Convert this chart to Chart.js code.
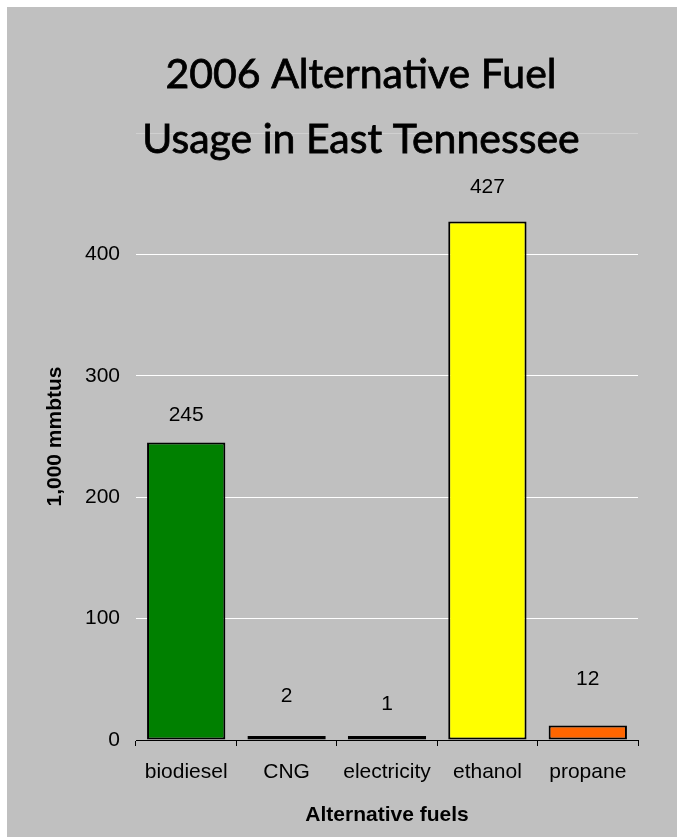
<!DOCTYPE html>
<html>
<head>
<meta charset="utf-8">
<script src="https://cdn.jsdelivr.net/npm/chart.js@4.4.1/dist/chart.umd.min.js"></script>
<style>
  body { margin: 0; background: #fff; }
  #wrap { position: absolute; left: 7px; top: 7px; width: 670px; height: 830px; background: #c0c0c0; }
</style>
</head>
<body>
<div id="wrap"><canvas id="fuel" width="670" height="830"></canvas></div>
<script>
const fuels = ["biodiesel", "CNG", "electricity", "ethanol", "propane"];
const usage = [245, 2, 1, 427, 12];
const yTicks = [0, 100, 200, 300, 400, 500];
const titleLines = ["2006 Alternative Fuel", "Usage in East Tennessee"];

const barColors = ["#008000", "#333333", "#333333", "#ffff00", "#ff6600"];
// how far above the bar top each value label sits (px), as in the original
const labelLift = [27, 41, 35, 34, 46];

const titlePlugin = {
  id: "bigTitle",
  afterDraw(chart) {
    const ctx = chart.ctx;
    ctx.save();
    ctx.fillStyle = "#000";
    ctx.strokeStyle = "#000";
    ctx.lineWidth = 0.8;
    ctx.textAlign = "center";
    ctx.textBaseline = "middle";
    ctx.font = "41px Lato";
    titleLines.forEach((line, i) => {
      ctx.fillText(line, 354, 68 + i * 65);
      ctx.strokeText(line, 354, 68 + i * 65);
    });
    ctx.restore();
  },
};

const valueLabels = {
  id: "valueLabels",
  afterDatasetsDraw(chart) {
    const ctx = chart.ctx;
    const meta = chart.getDatasetMeta(0);
    ctx.save();
    ctx.fillStyle = "#000";
    ctx.font = "21px 'Liberation Sans'";
    ctx.textAlign = "center";
    ctx.textBaseline = "middle";
    meta.data.forEach((bar, i) => {
      ctx.fillText(usage[i], bar.x, chart.scales.y.getPixelForValue(usage[i]) - labelLift[i]);
    });
    ctx.restore();
  },
};

Chart.defaults.font.family = "'Liberation Sans', Arial, sans-serif";
Chart.defaults.color = "#000";

new Chart(document.getElementById("fuel").getContext("2d"), {
  type: "bar",
  data: {
    labels: fuels,
    datasets: [
      {
        data: usage,
        backgroundColor: barColors,
        borderColor: "#000",
        borderWidth: 2,
        borderSkipped: false,
        minBarLength: 4,
        barPercentage: 0.78,
        categoryPercentage: 1,
      },
    ],
  },
  options: {
    responsive: false,
    devicePixelRatio: 1,
    animation: false,
    layout: { padding: { top: 126, right: 39, left: 0, bottom: 0 } },
    plugins: {
      legend: { display: false },
      tooltip: { enabled: false },
    },
    scales: {
      x: {
        afterFit(scale) {
          scale.height = 97;
        },
        grid: {
          offset: true,
          drawOnChartArea: false,
          tickLength: 6,
          color: "#000",
        },
        border: { display: true, color: "#000", width: 1 },
        ticks: { padding: 14, font: { size: 21 } },
        title: {
          display: true,
          text: "Alternative fuels",
          font: { size: 21, weight: "bold" },
          padding: { top: 0, bottom: 9 },
        },
      },
      y: {
        min: yTicks[0],
        max: yTicks[yTicks.length - 1],
        afterFit(scale) {
          scale.width = 129;
        },
        afterBuildTicks(scale) {
          scale.ticks = yTicks.map((v) => ({ value: v }));
        },
        grid: {
          drawTicks: false,
          color: (c) =>
            c.tick && c.tick.value === 500 ? "rgba(255,255,255,0.25)" : "#ffffff",
        },
        border: { display: false },
        ticks: {
          padding: 16,
          font: { size: 21 },
          callback: (v) => (v === 500 ? "" : v),
        },
        title: {
          display: true,
          text: "1,000 mmbtus",
          font: { size: 21, weight: "bold" },
          padding: { top: 36, bottom: 0 },
        },
      },
    },
  },
  plugins: [titlePlugin, valueLabels],
});
</script>
</body>
</html>
